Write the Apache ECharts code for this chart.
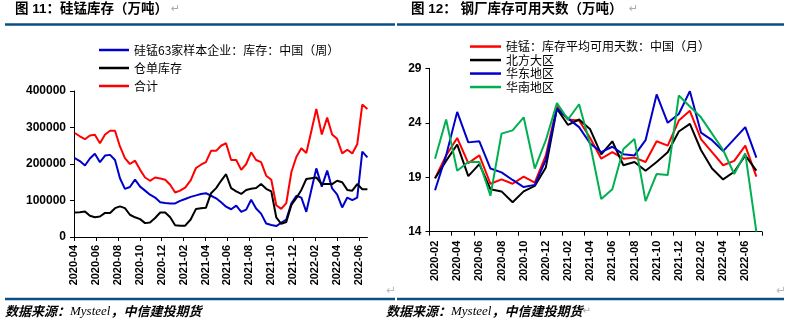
<!DOCTYPE html>
<html>
<head>
<meta charset="utf-8">
<script src="https://cdn.jsdelivr.net/npm/echarts@6/dist/echarts.min.js"></script>
<style>
html,body{margin:0;padding:0;background:#fff;}
#c{width:792px;height:324px;}
</style>
</head>
<body>
<div id="c"></div>
<script>
// ---------- Left chart: 硅锰库存 (biweekly) ----------
const leftDates = [
 '2020-04-03','2020-04-17','2020-05-01','2020-05-15','2020-05-29','2020-06-12','2020-06-26','2020-07-10','2020-07-24','2020-08-07',
 '2020-08-21','2020-09-04','2020-09-18','2020-10-02','2020-10-16','2020-10-30','2020-11-13','2020-11-27','2020-12-11','2020-12-25',
 '2021-01-08','2021-01-22','2021-02-05','2021-02-19','2021-03-05','2021-03-19','2021-04-02','2021-04-16','2021-04-30','2021-05-14',
 '2021-05-28','2021-06-11','2021-06-25','2021-07-09','2021-07-23','2021-08-06','2021-08-20','2021-09-03','2021-09-17','2021-10-01',
 '2021-10-15','2021-10-29','2021-11-12','2021-11-26','2021-12-10','2021-12-24','2022-01-07','2022-01-21','2022-02-04','2022-02-18',
 '2022-03-04','2022-03-18','2022-04-01','2022-04-15','2022-04-29','2022-05-13','2022-05-27','2022-06-10','2022-06-24'
];
const sample63 = [
 216000,208000,196000,215000,228000,205000,223000,225000,211000,161000,
 132000,137000,157000,138000,127000,116000,108000,95000,93000,92000,
 92000,99000,104000,110000,114000,118000,120000,113000,106000,95000,
 83000,76000,86000,69000,75000,102000,78000,64000,37000,33000,
 30000,39000,48000,92000,113000,108000,69000,128000,188000,138000,
 182000,133000,117000,81000,108000,101000,108000,234000,218000
];
const warrant = [
 67000,68000,70000,58000,54000,56000,66000,66000,79000,84000,
 79000,61000,54000,49000,38000,40000,52000,67000,67000,54000,
 32000,31000,31000,48000,77000,79000,80000,120000,134000,154000,
 172000,134000,125000,118000,129000,132000,134000,145000,132000,125000,
 54000,36000,41000,88000,107000,129000,159000,161000,163000,145000,
 145000,145000,154000,150000,129000,127000,145000,131000,131000
];
const total = [
 285000,276000,268000,278000,280000,257000,281000,291000,291000,248000,
 216000,200000,209000,184000,163000,154000,163000,160000,157000,143000,
 122000,127000,135000,155000,189000,198000,205000,236000,236000,250000,
 257000,211000,211000,184000,200000,232000,211000,205000,168000,157000,
 87000,77000,93000,178000,220000,243000,230000,289000,351000,281000,
 327000,281000,269000,229000,239000,229000,254000,363000,351000
];
const leftNames = ['硅锰63家样本企业：库存：中国（周）','仓单库存','合计'];
const leftYTicks = {min:0, max:400000, interval:100000};

// ---------- Right chart: 钢厂库存可用天数 (monthly) ----------
const rightMonths = [
 '2020-02','2020-03','2020-04','2020-05','2020-06','2020-07','2020-08','2020-09','2020-10','2020-11','2020-12',
 '2021-01','2021-02','2021-03','2021-04','2021-05','2021-06','2021-07','2021-08','2021-09','2021-10','2021-11','2021-12',
 '2022-01','2022-02','2022-03','2022-04','2022-05','2022-06','2022-07'
];
const avgDays = [18.9,21.0,22.6,20.3,21.0,18.4,18.8,18.4,19.05,18.5,21.0,25.5,24.3,24.2,22.6,20.7,21.3,20.7,20.8,20.4,22.3,21.9,24.2,25.1,22.5,21.3,20.1,20.5,21.9,19.05];
const northDays = [18.9,20.5,22.0,19.1,20.2,17.9,17.7,16.7,17.7,18.2,19.9,25.3,23.8,24.3,23.4,21.1,22.3,20.1,20.4,19.6,20.4,21.3,23.2,23.9,21.5,19.8,18.8,19.5,21.0,19.6];
const eastDays = [17.8,21.0,25.0,22.2,22.3,19.8,19.45,18.75,18.1,18.3,20.6,25.3,24.4,23.6,22.1,21.3,21.8,21.1,21.0,22.4,26.6,24.0,24.8,26.9,23.1,22.4,21.4,22.5,23.6,20.8];
const southDays = [20.7,24.3,19.6,20.4,20.4,17.3,23.0,23.3,24.5,19.8,22.4,25.8,24.3,25.7,22.0,17.0,17.9,21.6,22.5,16.8,19.3,19.2,26.5,25.5,24.5,23.0,21.5,19.3,21.2,14.0];
const rightNames = ['硅锰：库存平均可用天数：中国（月）','北方大区','华东地区','华南地区'];
const rightYTicks = {min:14, max:29, interval:5};

// ---------- helpers ----------
function monthOffset(s){ // months since 2020-04-01
  const p = s.split('-').map(Number);
  const dim = new Date(p[0], p[1], 0).getDate();
  return (p[0]-2020)*12 + (p[1]-4) + (p[2]-1)/dim;
}
function offsetLabel(v){
  if (Math.abs(v - Math.round(v)) > 1e-6) return '';
  const t = 3 + Math.round(v);
  const y = 2020 + Math.floor(t/12), m = t%12 + 1;
  return y + '-' + (m<10?'0':'') + m;
}
const FONT = "'Liberation Sans', 'Noto Sans CJK SC', sans-serif";
const CJK = "'Noto Sans CJK SC', sans-serif";
const BLUE = '#0000CC', RED = '#FF0000', BLACK = '#000000', GREEN = '#00B050';
const RULE = '#0B4F82';

const axisLbl = {color:'#000', fontFamily:FONT, fontWeight:'bold', fontSize:11};
const axLine = {show:true, lineStyle:{color:'#000', width:1}};

function lineSeries(name, data, color, xi, yi){
  return {name, type:'line', data, xAxisIndex:xi, yAxisIndex:yi, showSymbol:false, symbol:'none',
    lineStyle:{color, width:2}, itemStyle:{color}, animation:false, clip:true};
}

const chart = echarts.init(document.getElementById('c'), null, {renderer:'canvas'});
chart.setOption({
  animation:false,
  backgroundColor:'#fff',
  grid:[
    {left:74, top:91, width:293.4, height:146},
    {left:429.5, top:68.3, width:332.4, height:163.4}
  ],
  legend:[
    {data:leftNames, orient:'vertical', left:94, top:36, itemWidth:30, itemHeight:2.5, itemGap:0,
     icon:'rect', textStyle:{fontFamily:CJK, fontSize:12, color:'#000', lineHeight:18}},
    {data:rightNames, orient:'vertical', left:465, top:34.8, itemWidth:31, itemHeight:2.5, itemGap:0,
     icon:'rect', textStyle:{fontFamily:CJK, fontSize:12, color:'#000', lineHeight:13.5}}
  ],
  xAxis:[
    {type:'value', gridIndex:0, min:0, max:'dataMax', interval:2,
     axisLine:axLine, splitLine:{show:false},
     axisTick:{show:true, length:4, lineStyle:{color:'#000'}},
     axisLabel:Object.assign({rotate:90, margin:8, formatter:offsetLabel, showMaxLabel:false}, axisLbl)},
    {type:'category', gridIndex:1, data:rightMonths, boundaryGap:true,
     axisLine:axLine, splitLine:{show:false},
     axisTick:{show:true, length:4, interval:1, lineStyle:{color:'#000'}},
     axisLabel:Object.assign({rotate:90, margin:9, interval:1}, axisLbl)}
  ],
  yAxis:[
    {type:'value', gridIndex:0, min:leftYTicks.min, max:leftYTicks.max, interval:leftYTicks.interval,
     axisLine:axLine, splitLine:{show:false},
     axisTick:{show:true, length:4, lineStyle:{color:'#000'}},
     axisLabel:Object.assign({}, axisLbl, {fontSize:12, margin:8, formatter:v=>String(v)})},
    {type:'value', gridIndex:1, min:rightYTicks.min, max:rightYTicks.max, interval:rightYTicks.interval,
     axisLine:axLine, splitLine:{show:false},
     axisTick:{show:true, length:4, lineStyle:{color:'#000'}},
     axisLabel:Object.assign({}, axisLbl, {fontSize:12, margin:8, formatter:v=>String(v)})}
  ],
  series:[
    lineSeries(leftNames[0], leftDates.map((d,i)=>[monthOffset(d), sample63[i]]), BLUE, 0, 0),
    lineSeries(leftNames[1], leftDates.map((d,i)=>[monthOffset(d), warrant[i]]), BLACK, 0, 0),
    lineSeries(leftNames[2], leftDates.map((d,i)=>[monthOffset(d), total[i]]), RED, 0, 0),
    lineSeries(rightNames[0], avgDays, RED, 1, 1),
    lineSeries(rightNames[1], northDays, BLACK, 1, 1),
    lineSeries(rightNames[2], eastDays, BLUE, 1, 1),
    lineSeries(rightNames[3], southDays, GREEN, 1, 1)
  ],
  graphic:[
    {type:'text', left:15, top:3, style:{text:'图 11：硅锰库存（万吨）', font:"bold 13.5px "+FONT, fill:'#000'}},
    {type:'text', left:171, top:4, style:{text:'↵', font:"11px 'DejaVu Sans'", fill:'#aaa'}},
    {type:'text', left:411, top:3, style:{text:'图 12： 钢厂库存可用天数（万吨）', font:"bold 13.5px "+FONT, fill:'#000'}},
    {type:'text', left:629, top:4, style:{text:'↵', font:"11px 'DejaVu Sans'", fill:'#aaa'}},
    {type:'line', shape:{x1:5, y1:24.5, x2:395, y2:24.5}, style:{stroke:RULE, lineWidth:2.5}},
    {type:'line', shape:{x1:397, y1:24.5, x2:784, y2:24.5}, style:{stroke:RULE, lineWidth:2.5}},
    {type:'line', shape:{x1:5, y1:299, x2:395, y2:299}, style:{stroke:RULE, lineWidth:2.5}},
    {type:'line', shape:{x1:397, y1:299, x2:784, y2:299}, style:{stroke:RULE, lineWidth:2.5}},
    {type:'text', left:386, top:285, style:{text:'↵', font:"12px 'DejaVu Sans'", fill:'#bbb'}},
    {type:'text', left:776, top:285, style:{text:'↵', font:"12px 'DejaVu Sans'", fill:'#bbb'}},
    {type:'text', left:5, top:305, style:{
      text:'{a|数据来源：}{b|Mysteel}{a|，中信建投期货}',
      rich:{a:{font:"italic bold 13px "+CJK, fill:'#000'}, b:{font:"italic 13px 'Liberation Serif'", fill:'#000'}}}},
    {type:'text', left:386, top:305, style:{
      text:'{a|数据来源：}{b|Mysteel}{a|，中信建投期货}{c|↵}',
      rich:{a:{font:"italic bold 13px "+CJK, fill:'#000'}, b:{font:"italic 13px 'Liberation Serif'", fill:'#000'},
            c:{font:"10px 'DejaVu Sans'", fill:'#aaa'}}}}
  ]
});
</script>
</body>
</html>
